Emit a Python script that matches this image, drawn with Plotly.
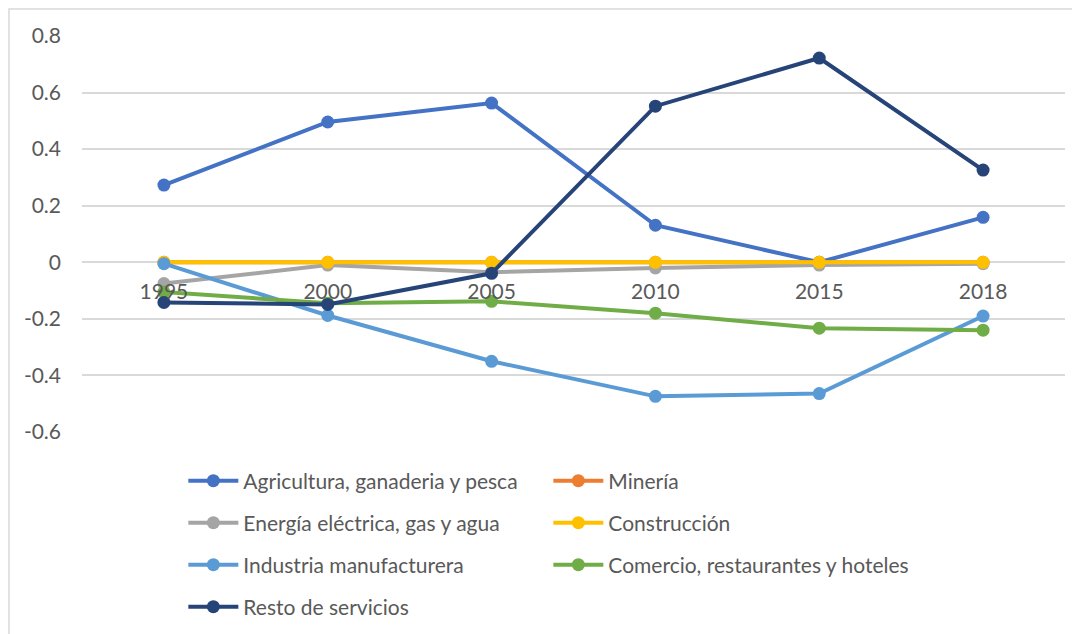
import plotly.graph_objects as go

years = ["1995", "2000", "2005", "2010", "2015", "2018"]
agricultura = [0.273, 0.496, 0.563, 0.131, 0.0, 0.159]
mineria = [0.0, 0.0, 0.0, 0.0, 0.0, 0.0]
energia = [-0.075, -0.01, -0.035, -0.02, -0.01, -0.005]
construccion = [0.0, 0.0, 0.0, 0.0, 0.0, 0.0]
industria = [-0.005, -0.188, -0.35, -0.474, -0.464, -0.19]
comercio = [-0.105, -0.145, -0.138, -0.18, -0.233, -0.24]
resto = [-0.142, -0.149, -0.039, 0.552, 0.722, 0.326]
y_ticks = [-0.6, -0.4, -0.2, 0, 0.2, 0.4, 0.6, 0.8]
y_ticktext = ["-0.6", "-0.4", "-0.2", "0", "0.2", "0.4", "0.6", "0.8"]

series = [
    ("Agricultura, ganaderia y pesca", agricultura, "#4472C4", "legend"),
    ("Minería", mineria, "#ED7D31", "legend"),
    ("Energía eléctrica, gas y agua", energia, "#A5A5A5", "legend2"),
    ("Construcción", construccion, "#FFC000", "legend2"),
    ("Industria manufacturera", industria, "#5B9BD5", "legend3"),
    ("Comercio, restaurantes y hoteles", comercio, "#70AD47", "legend3"),
    ("Resto de servicios", resto, "#264478", "legend4"),
]

font_family = "Lato, 'Open Sans', sans-serif"
text_color = "#595959"
fs = 21

fig = go.Figure()
for name, vals, color, lg in series:
    fig.add_trace(go.Scatter(
        x=years, y=vals, name=name, mode="lines+markers",
        line=dict(color=color, width=4),
        marker=dict(color=color, size=13),
        legend=lg,
    ))

def leg(y):
    return dict(
        orientation="h", x=0.1031, xanchor="left", y=y, yanchor="middle",
        entrywidth=300, entrywidthmode="pixels",
        font=dict(family=font_family, size=fs, color=text_color),
        bgcolor="rgba(0,0,0,0)", itemwidth=50,
    )

H = 396
def py(px):
    return (432 - px) / H

fig.update_layout(
    width=1080, height=634,
    margin=dict(l=74, r=23, t=28, b=210, autoexpand=False),
    paper_bgcolor="white", plot_bgcolor="white",
    font=dict(family=font_family, size=fs, color=text_color),
    legend=leg(py(481)),
    legend2=leg(py(523)),
    legend3=leg(py(565)),
    legend4=leg(py(607)),
    xaxis=dict(
        type="category", range=[-0.5, 5.5],
        anchor="free", position=(0 + 0.6) / 1.4,
        showgrid=False, zeroline=False, showline=False, ticks="",
        tickfont=dict(family=font_family, size=fs, color=text_color),
        ticklabelstandoff=15, automargin=False,
    ),
    yaxis=dict(
        range=[-0.6, 0.8], tickvals=y_ticks, ticktext=y_ticktext,
        showgrid=True, gridcolor="#D9D9D9", gridwidth=1.5,
        zeroline=False, showline=False, ticks="",
        tickfont=dict(family=font_family, size=fs, color=text_color),
        ticklabelstandoff=20, automargin=False,
    ),
    shapes=[dict(
        type="rect", xref="paper", yref="paper",
        x0=(9 - 82) / 983, x1=(1077 - 82) / 983,
        y0=py(645), y1=py(9),
        line=dict(color="#D9D9D9", width=1.5), fillcolor="rgba(0,0,0,0)",
        layer="below",
    )],
)

fig.write_html("out.html")
